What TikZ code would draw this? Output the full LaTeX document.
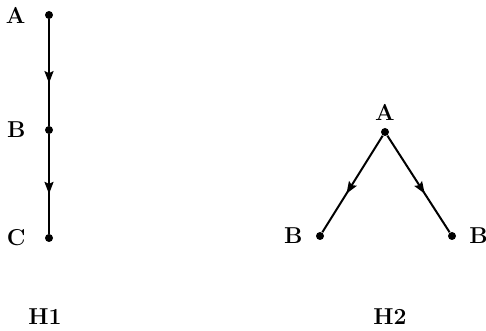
\documentclass[tikz,border=0pt]{standalone}
\usepackage{tikz}
\usetikzlibrary{arrows.meta,decorations.markings}

\begin{document}
\begin{tikzpicture}[x=0.5pt, y=0.5pt,
		vertex/.style={circle, fill, inner sep=0pt, minimum size=4pt},
		lbl/.style={font=\fontsize{11.5}{14}\selectfont\bfseries},
		edge/.style={line width=1pt, postaction={decorate},
			decoration={markings, mark=at position 0.6 with
				{\arrow{Stealth[length=6pt, width=4.5pt, inset=1pt]}}}}]
	\useasboundingbox (0,0) rectangle (486,331);

	% H1: a chain
	\node[vertex, label={[lbl, label distance=6pt]left:A}] (a1) at (49,316) {};
	\node[vertex, label={[lbl, label distance=6pt]left:B}] (b1) at (49,201) {};
	\node[vertex, label={[lbl, label distance=6pt]left:C}] (c1) at (49,93) {};
	\draw[edge] (a1) -- (b1);
	\draw[edge] (b1) -- (c1);
	\node[lbl] (h1) at (45,14) {H1};

	% H2: a fork
	\node[vertex, label={[lbl, label distance=0pt]above:A}] (a2) at (385,199) {};
	\node[vertex, label={[lbl, label distance=3pt]left:B}] (bl) at (320,95) {};
	\node[vertex, label={[lbl, label distance=3pt]right:B}] (br) at (452,95) {};
	\draw[edge] (a2) -- (bl);
	\draw[edge] (a2) -- (br);
	\node[lbl] (h2) at (390,14) {H2};
\end{tikzpicture}
\end{document}
